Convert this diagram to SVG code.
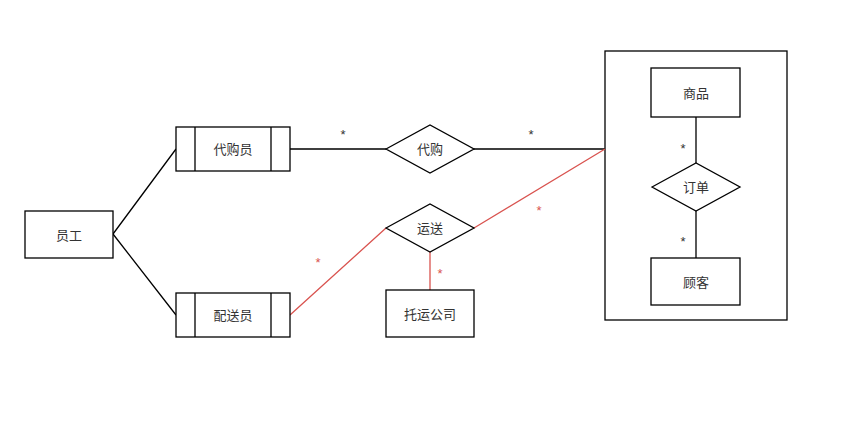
<svg xmlns="http://www.w3.org/2000/svg" width="864" height="434" viewBox="0 0 864 434">
<style>
.s{fill:#fff;stroke:#000;stroke-width:1.3}
.t{font-family:"Liberation Sans","Noto Sans CJK SC",sans-serif;font-size:13px;fill:#333;text-anchor:middle;dominant-baseline:central}
.k{stroke:#000;stroke-width:1.3;fill:none}
.r{stroke:#d9534f;stroke-width:1.3;fill:none}
.st{font-family:"Liberation Sans",sans-serif;font-size:13px;text-anchor:middle;dominant-baseline:central}
</style>
<rect width="864" height="434" fill="#fff"/>
<g id="container"><rect class="s" x="605" y="51" width="182" height="269"/></g>
<g id="connectors">
<path class="k" d="M113,234L176,149M113,234L176,315M290,149H386M474,149H605M696,117V163M696,211V258"/>
<path class="r" d="M290,315L386,228M474,228L605,149M430,252V290"/>
<text class="st" x="343" y="134" fill="#333">*</text>
<text class="st" x="531" y="134" fill="#333">*</text>
<text class="st" x="683" y="148" fill="#333">*</text>
<text class="st" x="683" y="241" fill="#333">*</text>
<text class="st" x="318" y="262" fill="#d9534f">*</text>
<text class="st" x="539" y="210" fill="#d9534f">*</text>
<text class="st" x="440" y="273" fill="#d9534f">*</text>
</g>
<g id="yuangong"><rect class="s" x="25" y="211" width="88" height="47"/><text class="t" x="69" y="235">员工</text></g>
<g id="daigouyuan"><rect class="s" x="176" y="127" width="114" height="44"/><path class="k" d="M195,127V171M271,127V171"/><text class="t" x="233" y="149">代购员</text></g>
<g id="peisongyuan"><rect class="s" x="176" y="293" width="114" height="44"/><path class="k" d="M195,293V337M271,293V337"/><text class="t" x="233" y="315">配送员</text></g>
<g id="daigou"><polygon class="s" points="386,149 430,125 474,149 430,173"/><text class="t" x="430" y="149">代购</text></g>
<g id="yunsong"><polygon class="s" points="386,228 430,204 474,228 430,252"/><text class="t" x="430" y="228">运送</text></g>
<g id="tuoyun"><rect class="s" x="386" y="290" width="88" height="47"/><text class="t" x="430" y="314">托运公司</text></g>
<g id="shangpin"><rect class="s" x="651" y="68" width="89" height="49"/><text class="t" x="696" y="93">商品</text></g>
<g id="dingdan"><polygon class="s" points="652,187 696,163 740,187 696,211"/><text class="t" x="696" y="187">订单</text></g>
<g id="guke"><rect class="s" x="651" y="258" width="89" height="47"/><text class="t" x="696" y="282">顾客</text></g>
</svg>
